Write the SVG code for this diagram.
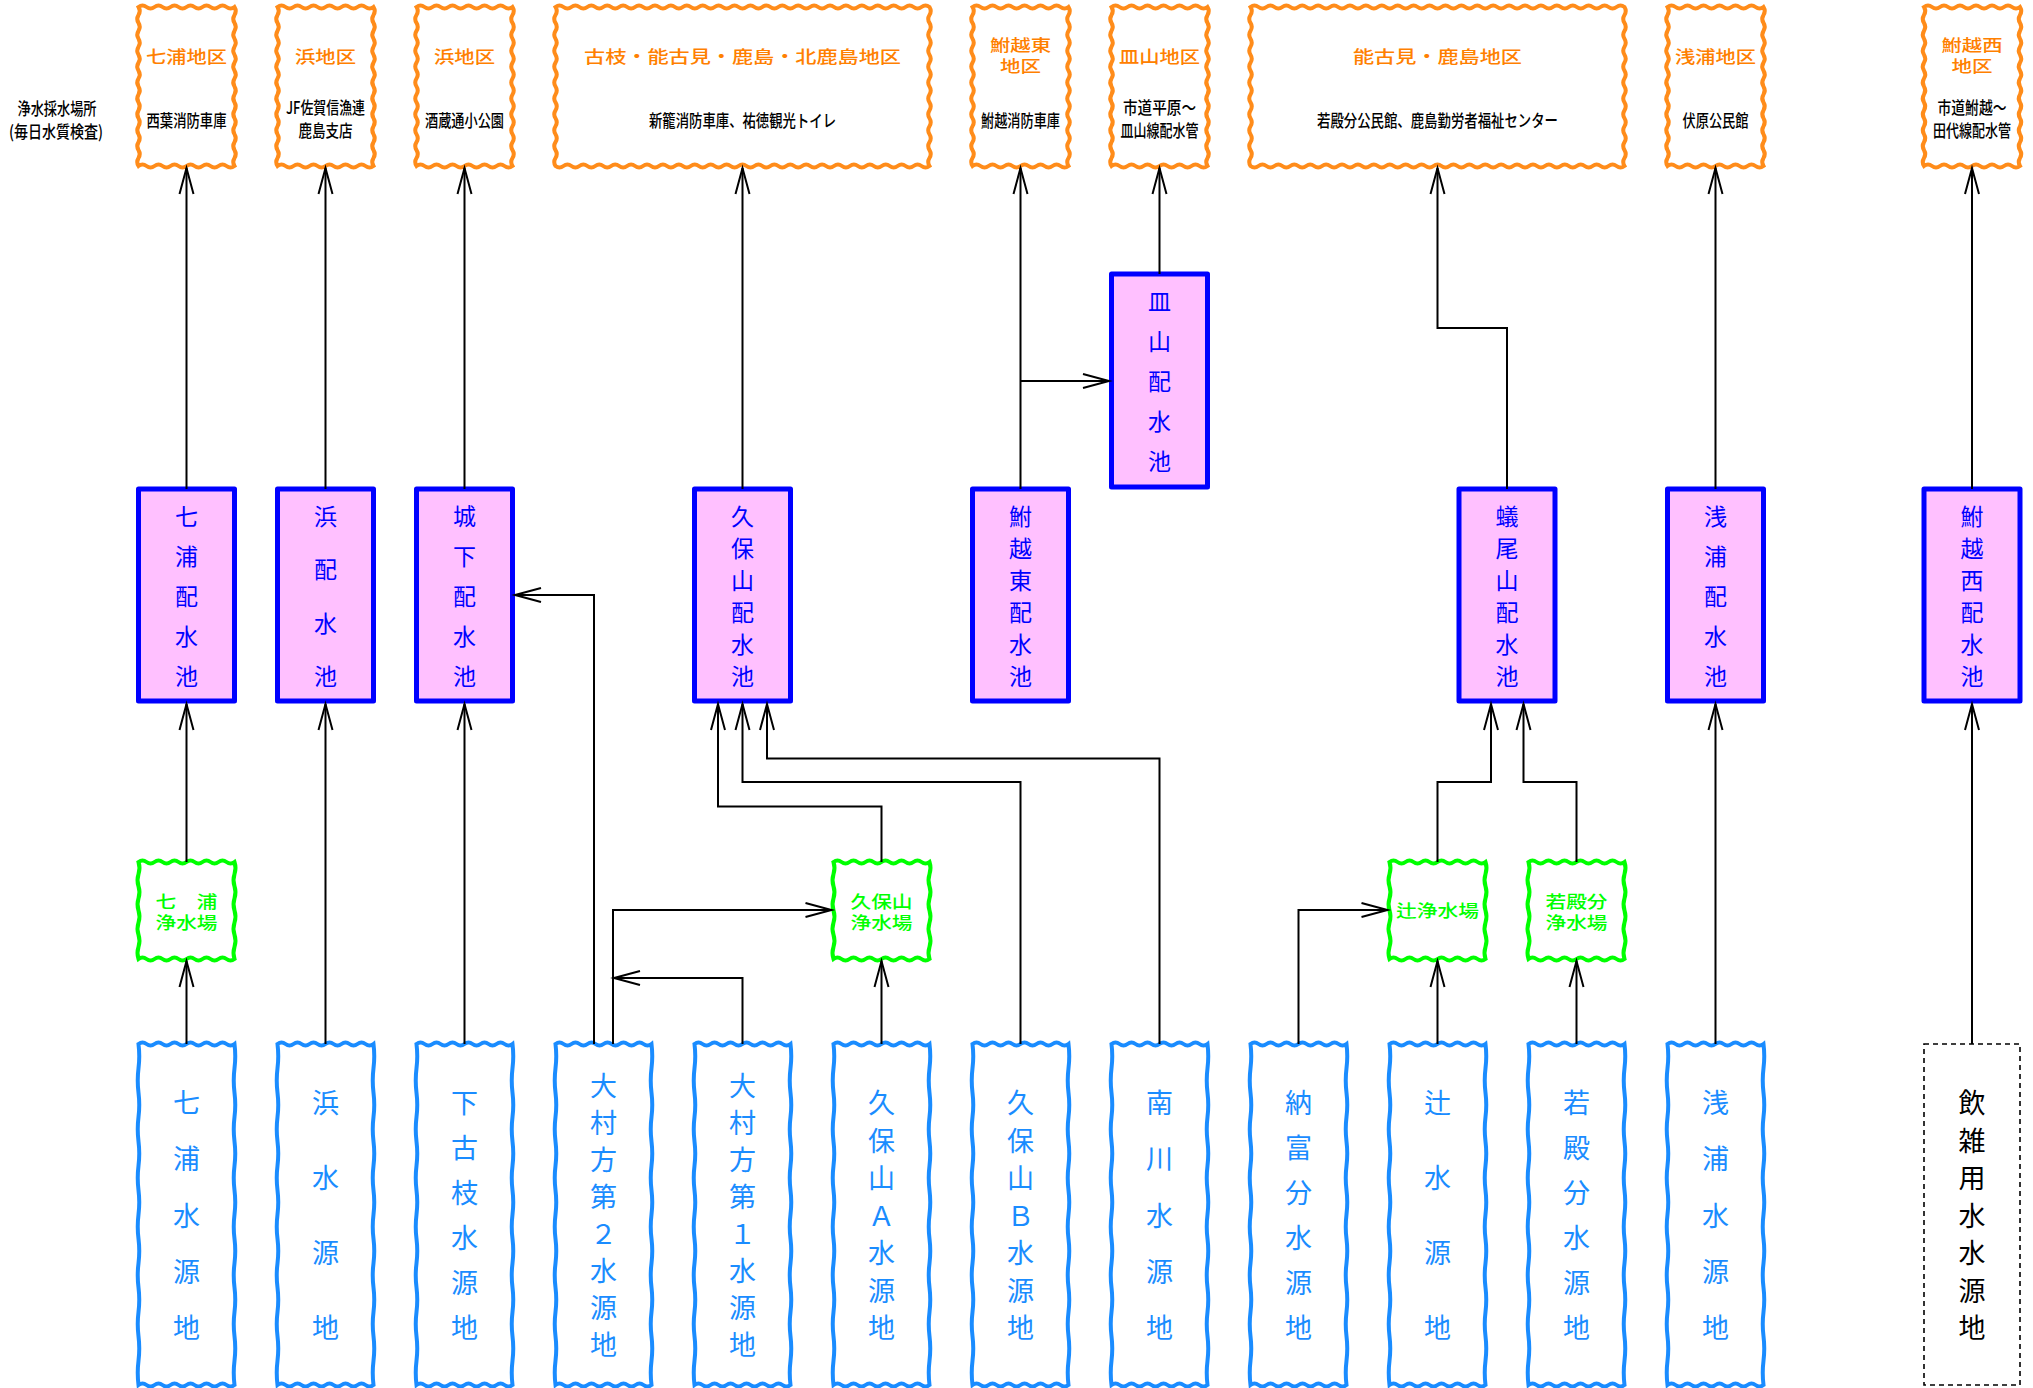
<svg xmlns="http://www.w3.org/2000/svg" xmlns:xlink="http://www.w3.org/1999/xlink" width="2033" height="1388" viewBox="0 0 2033 1388">
<style>
.t{font-family:"Noto Sans CJK JP","Noto Sans",sans-serif;text-anchor:middle}
.ot{fill:#FF8000;font-size:17px;font-weight:500}
.ot2{font-size:16px}
.os{fill:#000;font-size:17px;font-weight:500}
.pt{fill:#0000FF;font-size:23px}
.bt{fill:#1A8CFF;font-size:27px}
.gt{fill:#00FF00;font-size:17px;font-weight:500}
.kt{fill:#000;font-size:27px}
.pk{fill:#FFC0FF;stroke:#0000FF;stroke-width:5;stroke-linejoin:round}
.dash{fill:#fff;stroke:#000;stroke-width:1.6;stroke-dasharray:5 4}
.cn path{fill:none;stroke:#000;stroke-width:2;marker-end:url(#arr)}
</style>
<defs>
<marker id="arr" markerUnits="userSpaceOnUse" markerWidth="30" markerHeight="18" refX="26" refY="7" orient="auto" overflow="visible">
<path d="M0,0 L26,7 L0,14" fill="none" stroke="#000" stroke-width="2"/>
</marker>
<path id="wOs" fill="#fff" stroke="#FF8C1A" stroke-width="4" d="M0,0 q4,-3 8,0 t8,0 t8,0 t8,0 t8,0 t8,0 t8,0 t8,0 t8,0 t8,0 t8,0 t8,0 q2.5,3.975 0,7.95 t0,7.95 t0,7.95 t0,7.95 t0,7.95 t0,7.95 t0,7.95 t0,7.95 t0,7.95 t0,7.95 t0,7.95 t0,7.95 t0,7.95 t0,7.95 t0,7.95 t0,7.95 t0,7.95 t0,7.95 t0,7.95 t0,7.95 q-4,3 -8,0 t-8,0 t-8,0 t-8,0 t-8,0 t-8,0 t-8,0 t-8,0 t-8,0 t-8,0 t-8,0 t-8,0 q-2.5,-3.975 0,-7.95 t0,-7.95 t0,-7.95 t0,-7.95 t0,-7.95 t0,-7.95 t0,-7.95 t0,-7.95 t0,-7.95 t0,-7.95 t0,-7.95 t0,-7.95 t0,-7.95 t0,-7.95 t0,-7.95 t0,-7.95 t0,-7.95 t0,-7.95 t0,-7.95 t0,-7.95 z"/>
<path id="wOw" fill="#fff" stroke="#FF8C1A" stroke-width="4" d="M0,0 q3.98,-3 7.957,0 t7.957,0 t7.957,0 t7.957,0 t7.957,0 t7.957,0 t7.957,0 t7.957,0 t7.957,0 t7.957,0 t7.957,0 t7.957,0 t7.957,0 t7.957,0 t7.957,0 t7.957,0 t7.957,0 t7.957,0 t7.957,0 t7.957,0 t7.957,0 t7.957,0 t7.957,0 t7.957,0 t7.957,0 t7.957,0 t7.957,0 t7.957,0 t7.957,0 t7.957,0 t7.957,0 t7.957,0 t7.957,0 t7.957,0 t7.957,0 t7.957,0 t7.957,0 t7.957,0 t7.957,0 t7.957,0 t7.957,0 t7.957,0 t7.957,0 t7.957,0 t7.957,0 t7.957,0 t7.957,0 q2.5,3.975 0,7.95 t0,7.95 t0,7.95 t0,7.95 t0,7.95 t0,7.95 t0,7.95 t0,7.95 t0,7.95 t0,7.95 t0,7.95 t0,7.95 t0,7.95 t0,7.95 t0,7.95 t0,7.95 t0,7.95 t0,7.95 t0,7.95 t0,7.95 q-3.98,3 -7.957,0 t-7.957,0 t-7.957,0 t-7.957,0 t-7.957,0 t-7.957,0 t-7.957,0 t-7.957,0 t-7.957,0 t-7.957,0 t-7.957,0 t-7.957,0 t-7.957,0 t-7.957,0 t-7.957,0 t-7.957,0 t-7.957,0 t-7.957,0 t-7.957,0 t-7.957,0 t-7.957,0 t-7.957,0 t-7.957,0 t-7.957,0 t-7.957,0 t-7.957,0 t-7.957,0 t-7.957,0 t-7.957,0 t-7.957,0 t-7.957,0 t-7.957,0 t-7.957,0 t-7.957,0 t-7.957,0 t-7.957,0 t-7.957,0 t-7.957,0 t-7.957,0 t-7.957,0 t-7.957,0 t-7.957,0 t-7.957,0 t-7.957,0 t-7.957,0 t-7.957,0 t-7.957,0 q-2.5,-3.975 0,-7.95 t0,-7.95 t0,-7.95 t0,-7.95 t0,-7.95 t0,-7.95 t0,-7.95 t0,-7.95 t0,-7.95 t0,-7.95 t0,-7.95 t0,-7.95 t0,-7.95 t0,-7.95 t0,-7.95 t0,-7.95 t0,-7.95 t0,-7.95 t0,-7.95 t0,-7.95 z"/>
<path id="wB" fill="#fff" stroke="#1A8CFF" stroke-width="4" d="M0,0 q4,-3 8,0 t8,0 t8,0 t8,0 t8,0 t8,0 t8,0 t8,0 t8,0 t8,0 t8,0 t8,0 q1.5,12.18 0,24.357 t0,24.357 t0,24.357 t0,24.357 t0,24.357 t0,24.357 t0,24.357 t0,24.357 t0,24.357 t0,24.357 t0,24.357 t0,24.357 t0,24.357 t0,24.357 q-4,3 -8,0 t-8,0 t-8,0 t-8,0 t-8,0 t-8,0 t-8,0 t-8,0 t-8,0 t-8,0 t-8,0 t-8,0 q-1.5,-12.18 0,-24.357 t0,-24.357 t0,-24.357 t0,-24.357 t0,-24.357 t0,-24.357 t0,-24.357 t0,-24.357 t0,-24.357 t0,-24.357 t0,-24.357 t0,-24.357 t0,-24.357 t0,-24.357 z"/>
<path id="wG" fill="#fff" stroke="#00FF00" stroke-width="4" d="M0,0 q4,-3 8,0 t8,0 t8,0 t8,0 t8,0 t8,0 t8,0 t8,0 t8,0 t8,0 t8,0 t8,0 q2,6.06 0,12.125 t0,12.125 t0,12.125 t0,12.125 t0,12.125 t0,12.125 t0,12.125 t0,12.125 q-4,3 -8,0 t-8,0 t-8,0 t-8,0 t-8,0 t-8,0 t-8,0 t-8,0 t-8,0 t-8,0 t-8,0 t-8,0 q-2,-6.06 0,-12.125 t0,-12.125 t0,-12.125 t0,-12.125 t0,-12.125 t0,-12.125 t0,-12.125 t0,-12.125 z"/>
</defs>
<rect width="2033" height="1388" fill="#fff"/>

<g id="label-sampling">
<text class="t os"><tspan x="57" y="115" textLength="79" lengthAdjust="spacingAndGlyphs">浄水採水場所</tspan><tspan x="56" y="137.5" textLength="94" lengthAdjust="spacingAndGlyphs">(毎日水質検査)</tspan></text>
</g>

<g id="area-shichiura"><use xlink:href="#wOs" x="138.5" y="7"/>
<text class="t ot" x="186.5" y="63" textLength="81" lengthAdjust="spacingAndGlyphs">七浦地区</text>
<text class="t os" x="186.5" y="126.5" textLength="80" lengthAdjust="spacingAndGlyphs">西葉消防車庫</text></g>
<g id="area-hama1"><use xlink:href="#wOs" x="277.5" y="7"/>
<text class="t ot" x="325.5" y="63" textLength="61" lengthAdjust="spacingAndGlyphs">浜地区</text>
<text class="t os"><tspan x="325.5" y="114" textLength="79" lengthAdjust="spacingAndGlyphs">JF佐賀信漁連</tspan><tspan x="325.5" y="137" textLength="54" lengthAdjust="spacingAndGlyphs">鹿島支店</tspan></text></g>
<g id="area-hama2"><use xlink:href="#wOs" x="416.5" y="7"/>
<text class="t ot" x="464.5" y="63" textLength="61" lengthAdjust="spacingAndGlyphs">浜地区</text>
<text class="t os" x="464.5" y="126.5" textLength="79" lengthAdjust="spacingAndGlyphs">酒蔵通小公園</text></g>
<g id="area-furueda"><use xlink:href="#wOw" x="555.5" y="7"/>
<text class="t ot" x="742.5" y="63" textLength="317" lengthAdjust="spacingAndGlyphs">古枝・能古見・鹿島・北鹿島地区</text>
<text class="t os" x="742.5" y="126.5" textLength="187" lengthAdjust="spacingAndGlyphs">新籠消防車庫、祐徳観光トイレ</text></g>
<g id="area-funakoshi-e"><use xlink:href="#wOs" x="972.5" y="7"/>
<text class="t ot ot2"><tspan x="1020.5" y="50.5" textLength="61" lengthAdjust="spacingAndGlyphs">鮒越東</tspan><tspan x="1020.5" y="72" textLength="41" lengthAdjust="spacingAndGlyphs">地区</tspan></text>
<text class="t os" x="1020.5" y="126.5" textLength="79" lengthAdjust="spacingAndGlyphs">鮒越消防車庫</text></g>
<g id="area-sarayama"><use xlink:href="#wOs" x="1111.5" y="7"/>
<text class="t ot" x="1159.5" y="63" textLength="81" lengthAdjust="spacingAndGlyphs">皿山地区</text>
<text class="t os"><tspan x="1159.5" y="114" textLength="73" lengthAdjust="spacingAndGlyphs">市道平原～</tspan><tspan x="1159.5" y="137" textLength="78" lengthAdjust="spacingAndGlyphs">皿山線配水管</tspan></text></g>
<g id="area-nogomi"><use xlink:href="#wOw" x="1250.5" y="7"/>
<text class="t ot" x="1437.5" y="63" textLength="169" lengthAdjust="spacingAndGlyphs">能古見・鹿島地区</text>
<text class="t os" x="1437.5" y="126.5" textLength="241" lengthAdjust="spacingAndGlyphs">若殿分公民館、鹿島勤労者福祉センター</text></g>
<g id="area-asaura"><use xlink:href="#wOs" x="1667.5" y="7"/>
<text class="t ot" x="1715.5" y="63" textLength="81" lengthAdjust="spacingAndGlyphs">浅浦地区</text>
<text class="t os" x="1715.5" y="126.5" textLength="66" lengthAdjust="spacingAndGlyphs">伏原公民館</text></g>
<g id="area-funakoshi-w"><use xlink:href="#wOs" x="1924" y="7"/>
<text class="t ot ot2"><tspan x="1972" y="50.5" textLength="61" lengthAdjust="spacingAndGlyphs">鮒越西</tspan><tspan x="1972" y="72" textLength="41" lengthAdjust="spacingAndGlyphs">地区</tspan></text>
<text class="t os"><tspan x="1972" y="114" textLength="69" lengthAdjust="spacingAndGlyphs">市道鮒越～</tspan><tspan x="1972" y="137" textLength="78" lengthAdjust="spacingAndGlyphs">田代線配水管</tspan></text></g>

<g id="res-shichiura"><rect class="pk" x="138.5" y="489" width="96" height="212"/>
<text class="t pt"><tspan x="186.5" y="525">七</tspan><tspan x="186.5" y="565">浦</tspan><tspan x="186.5" y="605">配</tspan><tspan x="186.5" y="645">水</tspan><tspan x="186.5" y="685">池</tspan></text></g>
<g id="res-hama"><rect class="pk" x="277.5" y="489" width="96" height="212"/>
<text class="t pt"><tspan x="325.5" y="525">浜</tspan><tspan x="325.5" y="578">配</tspan><tspan x="325.5" y="632">水</tspan><tspan x="325.5" y="685">池</tspan></text></g>
<g id="res-joka"><rect class="pk" x="416.5" y="489" width="96" height="212"/>
<text class="t pt"><tspan x="464.5" y="525">城</tspan><tspan x="464.5" y="565">下</tspan><tspan x="464.5" y="605">配</tspan><tspan x="464.5" y="645">水</tspan><tspan x="464.5" y="685">池</tspan></text></g>
<g id="res-kuboyama"><rect class="pk" x="694.5" y="489" width="96" height="212"/>
<text class="t pt"><tspan x="742.5" y="525">久</tspan><tspan x="742.5" y="557">保</tspan><tspan x="742.5" y="589">山</tspan><tspan x="742.5" y="621">配</tspan><tspan x="742.5" y="653">水</tspan><tspan x="742.5" y="685">池</tspan></text></g>
<g id="res-funakoshi-e"><rect class="pk" x="972.5" y="489" width="96" height="212"/>
<text class="t pt"><tspan x="1020.5" y="525">鮒</tspan><tspan x="1020.5" y="557">越</tspan><tspan x="1020.5" y="589">東</tspan><tspan x="1020.5" y="621">配</tspan><tspan x="1020.5" y="653">水</tspan><tspan x="1020.5" y="685">池</tspan></text></g>
<g id="res-sarayama"><rect class="pk" x="1111.5" y="274" width="96" height="213"/>
<text class="t pt"><tspan x="1159.5" y="310">皿</tspan><tspan x="1159.5" y="350">山</tspan><tspan x="1159.5" y="390">配</tspan><tspan x="1159.5" y="430">水</tspan><tspan x="1159.5" y="470">池</tspan></text></g>
<g id="res-gibiyama"><rect class="pk" x="1459" y="489" width="96" height="212"/>
<text class="t pt"><tspan x="1507" y="525">蟻</tspan><tspan x="1507" y="557">尾</tspan><tspan x="1507" y="589">山</tspan><tspan x="1507" y="621">配</tspan><tspan x="1507" y="653">水</tspan><tspan x="1507" y="685">池</tspan></text></g>
<g id="res-asaura"><rect class="pk" x="1667.5" y="489" width="96" height="212"/>
<text class="t pt"><tspan x="1715.5" y="525">浅</tspan><tspan x="1715.5" y="565">浦</tspan><tspan x="1715.5" y="605">配</tspan><tspan x="1715.5" y="645">水</tspan><tspan x="1715.5" y="685">池</tspan></text></g>
<g id="res-funakoshi-w"><rect class="pk" x="1924" y="489" width="96" height="212"/>
<text class="t pt"><tspan x="1972" y="525">鮒</tspan><tspan x="1972" y="557">越</tspan><tspan x="1972" y="589">西</tspan><tspan x="1972" y="621">配</tspan><tspan x="1972" y="653">水</tspan><tspan x="1972" y="685">池</tspan></text></g>

<g id="plant-shichiura"><use xlink:href="#wG" x="138.5" y="862"/>
<text class="t gt"><tspan x="186.5" y="907.5" textLength="62" lengthAdjust="spacingAndGlyphs">七　浦</tspan><tspan x="186.5" y="929" textLength="62" lengthAdjust="spacingAndGlyphs">浄水場</tspan></text></g>
<g id="plant-kuboyama"><use xlink:href="#wG" x="833.5" y="862"/>
<text class="t gt"><tspan x="881.5" y="907.5" textLength="62" lengthAdjust="spacingAndGlyphs">久保山</tspan><tspan x="881.5" y="929" textLength="62" lengthAdjust="spacingAndGlyphs">浄水場</tspan></text></g>
<g id="plant-tsuji"><use xlink:href="#wG" x="1389.5" y="862"/>
<text class="t gt" x="1437.5" y="916.5" textLength="83" lengthAdjust="spacingAndGlyphs">辻浄水場</text></g>
<g id="plant-wakatonobun"><use xlink:href="#wG" x="1528.5" y="862"/>
<text class="t gt"><tspan x="1576.5" y="907.5" textLength="62" lengthAdjust="spacingAndGlyphs">若殿分</tspan><tspan x="1576.5" y="929" textLength="62" lengthAdjust="spacingAndGlyphs">浄水場</tspan></text></g>

<g id="src-shichiura"><use xlink:href="#wB" x="138.5" y="1044"/>
<text class="t bt"><tspan x="186.5" y="1113">七</tspan><tspan x="186.5" y="1169">浦</tspan><tspan x="186.5" y="1225.5">水</tspan><tspan x="186.5" y="1282">源</tspan><tspan x="186.5" y="1338">地</tspan></text></g>
<g id="src-hama"><use xlink:href="#wB" x="277.5" y="1044"/>
<text class="t bt"><tspan x="325.5" y="1113">浜</tspan><tspan x="325.5" y="1188">水</tspan><tspan x="325.5" y="1263">源</tspan><tspan x="325.5" y="1338">地</tspan></text></g>
<g id="src-shimofurueda"><use xlink:href="#wB" x="416.5" y="1044"/>
<text class="t bt"><tspan x="464.5" y="1113">下</tspan><tspan x="464.5" y="1158">古</tspan><tspan x="464.5" y="1203">枝</tspan><tspan x="464.5" y="1248">水</tspan><tspan x="464.5" y="1293">源</tspan><tspan x="464.5" y="1338">地</tspan></text></g>
<g id="src-omurakata2"><use xlink:href="#wB" x="555.5" y="1044"/>
<text class="t bt"><tspan x="603.5" y="1096">大</tspan><tspan x="603.5" y="1133">村</tspan><tspan x="603.5" y="1170">方</tspan><tspan x="603.5" y="1207">第</tspan><tspan x="603.5" y="1244">２</tspan><tspan x="603.5" y="1281">水</tspan><tspan x="603.5" y="1318">源</tspan><tspan x="603.5" y="1355">地</tspan></text></g>
<g id="src-omurakata1"><use xlink:href="#wB" x="694.5" y="1044"/>
<text class="t bt"><tspan x="742.5" y="1096">大</tspan><tspan x="742.5" y="1133">村</tspan><tspan x="742.5" y="1170">方</tspan><tspan x="742.5" y="1207">第</tspan><tspan x="742.5" y="1244">１</tspan><tspan x="742.5" y="1281">水</tspan><tspan x="742.5" y="1318">源</tspan><tspan x="742.5" y="1355">地</tspan></text></g>
<g id="src-kuboyama-a"><use xlink:href="#wB" x="833.5" y="1044"/>
<text class="t bt"><tspan x="881.5" y="1113">久</tspan><tspan x="881.5" y="1150.5">保</tspan><tspan x="881.5" y="1188">山</tspan><tspan x="881.5" y="1225.5">Ａ</tspan><tspan x="881.5" y="1263">水</tspan><tspan x="881.5" y="1300.5">源</tspan><tspan x="881.5" y="1338">地</tspan></text></g>
<g id="src-kuboyama-b"><use xlink:href="#wB" x="972.5" y="1044"/>
<text class="t bt"><tspan x="1020.5" y="1113">久</tspan><tspan x="1020.5" y="1150.5">保</tspan><tspan x="1020.5" y="1188">山</tspan><tspan x="1020.5" y="1225.5">Ｂ</tspan><tspan x="1020.5" y="1263">水</tspan><tspan x="1020.5" y="1300.5">源</tspan><tspan x="1020.5" y="1338">地</tspan></text></g>
<g id="src-minamikawa"><use xlink:href="#wB" x="1111.5" y="1044"/>
<text class="t bt"><tspan x="1159.5" y="1113">南</tspan><tspan x="1159.5" y="1169">川</tspan><tspan x="1159.5" y="1225.5">水</tspan><tspan x="1159.5" y="1282">源</tspan><tspan x="1159.5" y="1338">地</tspan></text></g>
<g id="src-notomibun"><use xlink:href="#wB" x="1250.5" y="1044"/>
<text class="t bt"><tspan x="1298.5" y="1113">納</tspan><tspan x="1298.5" y="1158">富</tspan><tspan x="1298.5" y="1203">分</tspan><tspan x="1298.5" y="1248">水</tspan><tspan x="1298.5" y="1293">源</tspan><tspan x="1298.5" y="1338">地</tspan></text></g>
<g id="src-tsuji"><use xlink:href="#wB" x="1389.5" y="1044"/>
<text class="t bt"><tspan x="1437.5" y="1113">辻</tspan><tspan x="1437.5" y="1188">水</tspan><tspan x="1437.5" y="1263">源</tspan><tspan x="1437.5" y="1338">地</tspan></text></g>
<g id="src-wakatonobun"><use xlink:href="#wB" x="1528.5" y="1044"/>
<text class="t bt"><tspan x="1576.5" y="1113">若</tspan><tspan x="1576.5" y="1158">殿</tspan><tspan x="1576.5" y="1203">分</tspan><tspan x="1576.5" y="1248">水</tspan><tspan x="1576.5" y="1293">源</tspan><tspan x="1576.5" y="1338">地</tspan></text></g>
<g id="src-asaura"><use xlink:href="#wB" x="1667.5" y="1044"/>
<text class="t bt"><tspan x="1715.5" y="1113">浅</tspan><tspan x="1715.5" y="1169">浦</tspan><tspan x="1715.5" y="1225.5">水</tspan><tspan x="1715.5" y="1282">源</tspan><tspan x="1715.5" y="1338">地</tspan></text></g>
<g id="src-drinking"><rect class="dash" x="1924" y="1044" width="96" height="341"/>
<text class="t kt"><tspan x="1972" y="1113">飲</tspan><tspan x="1972" y="1150.5">雑</tspan><tspan x="1972" y="1188">用</tspan><tspan x="1972" y="1225.5">水</tspan><tspan x="1972" y="1263">水</tspan><tspan x="1972" y="1300.5">源</tspan><tspan x="1972" y="1338">地</tspan></text></g>

<g id="connectors" class="cn">
<path d="M186.5,1044 V961"/>
<path d="M186.5,862 V704"/>
<path d="M186.5,489 V168"/>
<path d="M325.5,1044 V704"/>
<path d="M325.5,489 V168"/>
<path d="M464.5,1044 V704"/>
<path d="M464.5,489 V168"/>
<path d="M594,1044 V595 H515"/>
<path d="M613,1044 V910 H831.5"/>
<path d="M742.5,1044 V978 H614"/>
<path d="M881.5,1044 V961"/>
<path d="M881.5,862 V806.5 H718 V704"/>
<path d="M1020.5,1044 V782 H742.5 V704"/>
<path d="M1159.5,1044 V758.5 H767 V704"/>
<path d="M742.5,489 V168"/>
<path d="M1020.5,489 V168"/>
<path d="M1020.5,381 H1109"/>
<path d="M1159.5,274 V168"/>
<path d="M1298.5,1044 V910 H1387.5"/>
<path d="M1437.5,1044 V961"/>
<path d="M1576.5,1044 V961"/>
<path d="M1437.5,862 V782 H1491 V704"/>
<path d="M1576.5,862 V782 H1523.5 V704"/>
<path d="M1507,489 V328 H1437.5 V168"/>
<path d="M1715.5,1044 V704"/>
<path d="M1715.5,489 V168"/>
<path d="M1972,1044 V704"/>
<path d="M1972,489 V168"/>
</g>
</svg>
